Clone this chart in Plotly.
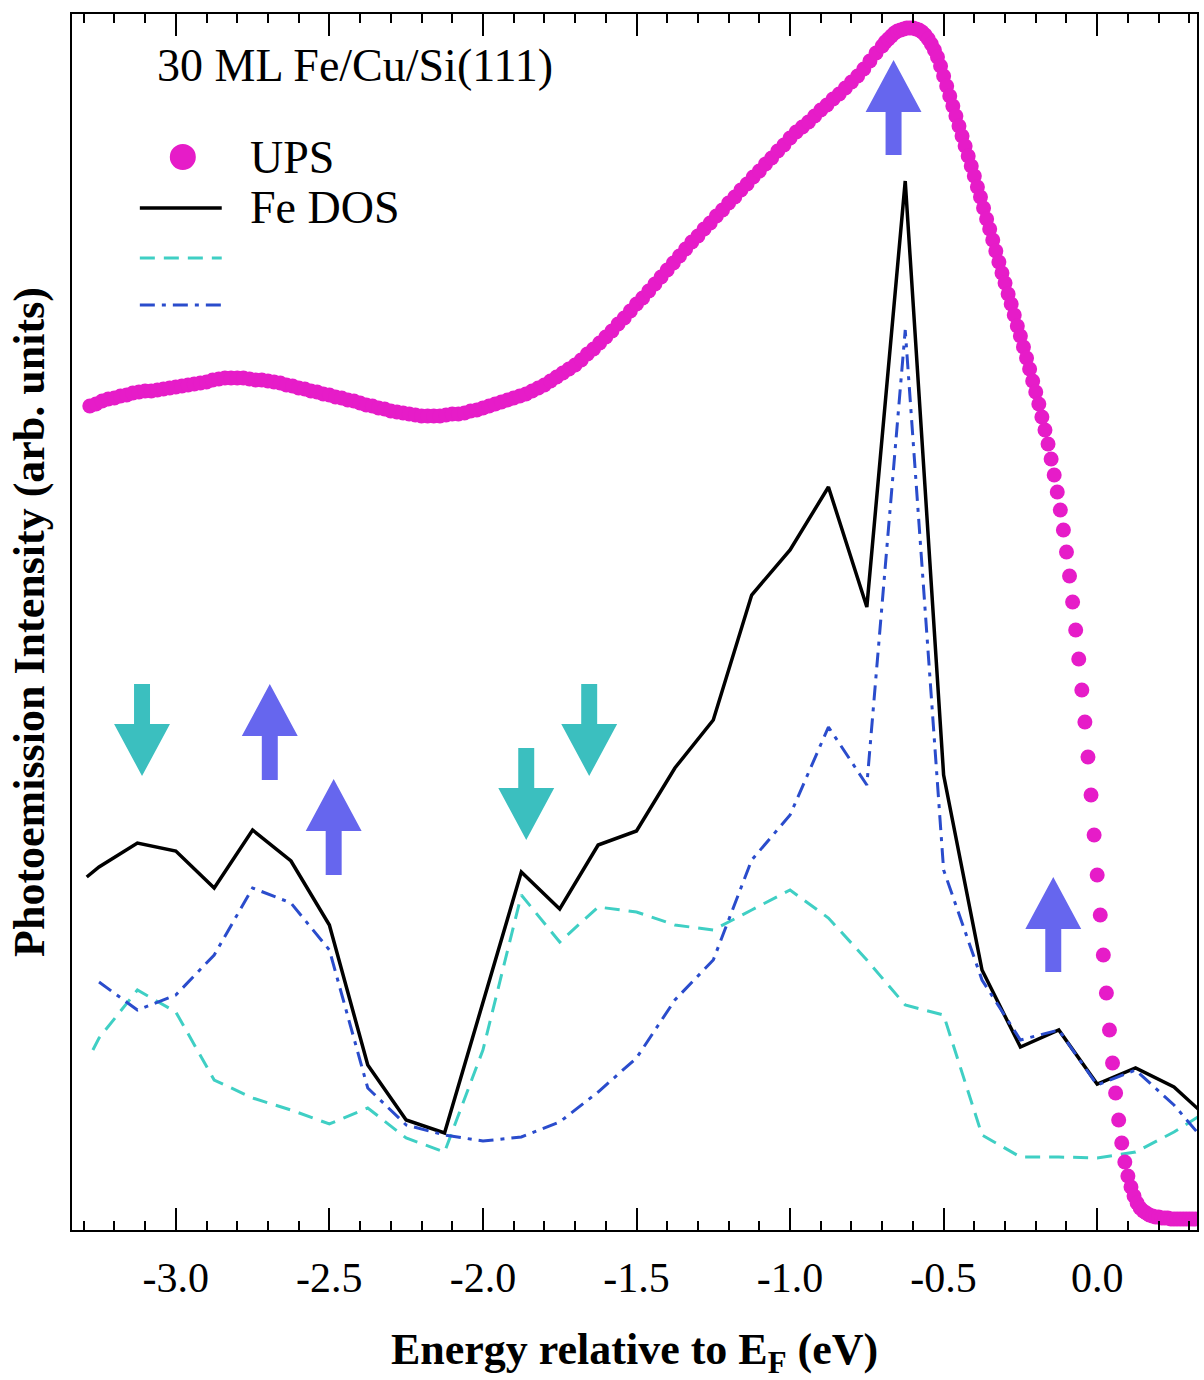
import plotly.graph_objects as go

# ---------------- data ----------------
# UPS spectrum: coarse part (0.02 eV steps) and fine part (0.01 eV steps)
ups_energy_a = [
    -3.28, -3.26, -3.24, -3.22, -3.20, -3.18, -3.16, -3.14, -3.12, -3.10,
    -3.08, -3.06, -3.04, -3.02, -3.00, -2.98, -2.96, -2.94, -2.92, -2.90,
    -2.88, -2.86, -2.84, -2.82, -2.80, -2.78, -2.76, -2.74, -2.72, -2.70,
    -2.68, -2.66, -2.64, -2.62, -2.60, -2.58, -2.56, -2.54, -2.52, -2.50,
    -2.48, -2.46, -2.44, -2.42, -2.40, -2.38, -2.36, -2.34, -2.32, -2.30,
    -2.28, -2.26, -2.24, -2.22, -2.20, -2.18, -2.16, -2.14, -2.12, -2.10,
    -2.08, -2.06, -2.04, -2.02, -2.00, -1.98, -1.96, -1.94, -1.92, -1.90,
    -1.88, -1.86, -1.84, -1.82, -1.80, -1.78, -1.76, -1.74, -1.72, -1.70,
    -1.68, -1.66, -1.64, -1.62, -1.60, -1.58, -1.56, -1.54, -1.52, -1.50,
    -1.48, -1.46, -1.44, -1.42, -1.40, -1.38, -1.36, -1.34, -1.32, -1.30,
    -1.28, -1.26, -1.24, -1.22, -1.20, -1.18, -1.16, -1.14, -1.12, -1.10,
    -1.08, -1.06, -1.04, -1.02, -1.00, -0.98, -0.96, -0.94, -0.92, -0.90,
    -0.88, -0.86, -0.84, -0.82, -0.80, -0.78, -0.76, -0.74, -0.72,
]
ups_counts_a = [
    82.4, 82.6, 82.9, 83.1, 83.2, 83.4, 83.5, 83.7, 83.8, 83.9,
    83.9, 84.0, 84.1, 84.2, 84.3, 84.4, 84.5, 84.6, 84.7, 84.8,
    85.0, 85.1, 85.2, 85.2, 85.2, 85.2, 85.1, 85.0, 85.0, 84.9,
    84.8, 84.7, 84.5, 84.4, 84.2, 84.1, 83.9, 83.8, 83.6, 83.5,
    83.3, 83.2, 83.0, 82.9, 82.7, 82.5, 82.4, 82.2, 82.1, 81.9,
    81.8, 81.7, 81.6, 81.5, 81.4, 81.4, 81.4, 81.4, 81.5, 81.6,
    81.6, 81.7, 81.9, 82.0, 82.2, 82.4, 82.6, 82.8, 83.0, 83.2,
    83.4, 83.6, 83.9, 84.2, 84.5, 84.9, 85.3, 85.7, 86.1, 86.5,
    87.0, 87.6, 88.1, 88.7, 89.3, 89.9, 90.6, 91.2, 91.9, 92.6,
    93.2, 93.9, 94.6, 95.3, 96.0, 96.7, 97.4, 98.1, 98.8, 99.4,
    100.1, 100.7, 101.4, 102.0, 102.7, 103.3, 104.0, 104.6, 105.3, 105.9,
    106.6, 107.2, 107.9, 108.5, 109.2, 109.8, 110.3, 110.8, 111.4, 112.0,
    112.5, 113.1, 113.6, 114.2, 114.8, 115.4, 116.1, 116.9, 117.7,
]
ups_energy_b = [
    -0.70, -0.69, -0.68, -0.67, -0.66, -0.65, -0.64, -0.63, -0.62, -0.61,
    -0.60, -0.59, -0.58, -0.57, -0.56, -0.55, -0.54, -0.53, -0.52, -0.51,
    -0.50, -0.49, -0.48, -0.47, -0.46, -0.45, -0.44, -0.43, -0.42, -0.41,
    -0.40, -0.39, -0.38, -0.37, -0.36, -0.35, -0.34, -0.33, -0.32, -0.31,
    -0.30, -0.29, -0.28, -0.27, -0.26, -0.25, -0.24, -0.23, -0.22, -0.21,
    -0.20, -0.19, -0.18, -0.17, -0.16, -0.15, -0.14, -0.13, -0.12, -0.11,
    -0.10, -0.09, -0.08, -0.07, -0.06, -0.05, -0.04, -0.03, -0.02, -0.01,
    0.00, 0.01, 0.02, 0.03, 0.04, 0.05, 0.06, 0.07, 0.08, 0.09,
    0.10, 0.11, 0.12, 0.13, 0.14, 0.15, 0.16, 0.17, 0.18, 0.19,
    0.20, 0.21, 0.22, 0.23, 0.24, 0.25, 0.26, 0.27, 0.28, 0.29,
    0.30, 0.31, 0.32,
]
ups_counts_b = [
    118.4, 118.8, 119.1, 119.4, 119.7, 119.9, 120.0, 120.1, 120.2, 120.2,
    120.2, 120.1, 120.0, 119.8, 119.5, 119.1, 118.6, 118.0, 117.3, 116.4,
    115.4, 114.4, 113.4, 112.4, 111.4, 110.4, 109.4, 108.4, 107.4, 106.4,
    105.4, 104.3, 103.3, 102.2, 101.1, 100.1, 99.0, 97.9, 96.8, 95.7,
    94.7, 93.6, 92.6, 91.5, 90.4, 89.4, 88.3, 87.2, 86.1, 84.9,
    83.8, 82.6, 81.3, 80.0, 78.6, 77.1, 75.5, 73.8, 72.0, 70.0,
    67.8, 65.4, 62.8, 60.0, 57.1, 54.0, 50.8, 47.3, 43.5, 39.5,
    35.5, 31.5, 27.5, 23.7, 20.0, 16.7, 13.7, 11.0, 8.7, 6.8,
    5.4, 4.3, 3.4, 2.7, 2.2, 1.9, 1.7, 1.5, 1.4, 1.3,
    1.3, 1.2, 1.2, 1.2, 1.1, 1.1, 1.1, 1.1, 1.1, 1.1,
    1.1, 1.1, 1.1,
]

# Calculated densities of states on a 0.125 eV grid
dos_energy = [
    -3.25, -3.125, -3.0, -2.875, -2.75, -2.625, -2.5, -2.375, -2.25, -2.125,
    -2.0, -1.875, -1.75, -1.625, -1.5, -1.375, -1.25, -1.125, -1.0, -0.875,
    -0.75, -0.625, -0.5, -0.375, -0.25, -0.125, 0.0, 0.125, 0.25, 0.375,
]
fe_dos_start = [-3.29, 35.3]
fe_dos = [
    36.3, 38.7, 37.9, 34.2, 40.0, 36.9, 30.5, 16.5, 11.0, 9.7,
    22.8, 35.8, 32.1, 38.5, 39.9, 46.2, 51.0, 63.5, 68.0, 74.3,
    62.3, 104.9, 45.5, 26.0, 18.3, 20.0, 14.6, 16.2, 14.3, 10.8,
]
spin_down_start = [-3.27, 18.0]
spin_down_dos = [
    19.2, 24.0, 21.8, 15.0, 13.2, 12.0, 10.6, 12.2, 9.2, 7.8,
    18.0, 33.5, 28.8, 32.3, 31.8, 30.5, 30.0, 32.0, 34.0, 31.2,
    27.0, 22.5, 21.5, 9.5, 7.3, 7.3, 7.2, 7.8, 9.8, 12.2,
]
spin_up_dos = [
    24.8, 22.0, 23.5, 27.5, 34.2, 32.7, 28.0, 14.2, 10.5, 9.5,
    8.9, 9.3, 10.8, 13.8, 17.2, 23.0, 27.0, 37.0, 41.5, 50.3,
    44.5, 90.0, 36.0, 25.0, 19.0, 20.0, 14.5, 16.0, 12.5, 8.0,
]

# Spin arrows: energy position, tail and tip intensity
down_arrow_energy = [-3.110, -1.859, -1.654]
down_arrow_tail = [54.6, 48.2, 54.6]
down_arrow_tip = [45.4, 39.0, 45.4]
up_arrow_energy = [-2.694, -2.486, -0.663, -0.143]
up_arrow_tail = [45.0, 35.5, 107.5, 25.8]
up_arrow_tip = [54.6, 45.1, 117.0, 35.3]

tick_values = [-3.0, -2.5, -2.0, -1.5, -1.0, -0.5, 0.0]
tick_labels = ["-3.0", "-2.5", "-2.0", "-1.5", "-1.0", "-0.5", "0.0"]

assert len(ups_energy_a) == len(ups_counts_a)
assert len(ups_energy_b) == len(ups_counts_b)

# ---------------- styling ----------------
MAGENTA = "#e61cc8"
CYAN_LINE = "#3fcfc4"
BLUE_LINE = "#2a4ccc"
CYAN_ARROW = "#3bbfbf"
BLUE_ARROW = "#6666ee"
SERIF = "Liberation Serif"

fig = go.Figure()

fig.add_trace(go.Scatter(
    x=[fe_dos_start[0]] + dos_energy, y=[fe_dos_start[1]] + fe_dos,
    mode="lines", line=dict(color="black", width=3.5), name="Fe DOS"))
fig.add_trace(go.Scatter(
    x=[spin_down_start[0]] + dos_energy, y=[spin_down_start[1]] + spin_down_dos,
    mode="lines", line=dict(color=CYAN_LINE, width=3, dash="15px,9px"),
    name="spin-down DOS"))
fig.add_trace(go.Scatter(
    x=dos_energy, y=spin_up_dos,
    mode="lines", line=dict(color=BLUE_LINE, width=3, dash="15px,7px,4px,7px"),
    name="spin-up DOS"))
fig.add_trace(go.Scatter(
    x=ups_energy_a + ups_energy_b, y=ups_counts_a + ups_counts_b,
    mode="markers", marker=dict(color=MAGENTA, size=15, line=dict(width=0)),
    name="UPS"))

# block arrows (shapes in data coordinates)
SHAFT_HW = 0.026   # eV
HEAD_HW = 0.091    # eV
HEAD_LEN = 5.2     # arb. units


def arrow_path(x, y_tail, y_tip):
    d = 1 if y_tip > y_tail else -1
    yb = y_tip - d * HEAD_LEN
    return (f"M {x - SHAFT_HW},{y_tail} L {x + SHAFT_HW},{y_tail} "
            f"L {x + SHAFT_HW},{yb} L {x + HEAD_HW},{yb} L {x},{y_tip} "
            f"L {x - HEAD_HW},{yb} L {x - SHAFT_HW},{yb} Z")


shapes = []
for x, yt, yp in zip(down_arrow_energy, down_arrow_tail, down_arrow_tip):
    shapes.append(dict(type="path", xref="x", yref="y", path=arrow_path(x, yt, yp),
                       fillcolor=CYAN_ARROW, line=dict(width=0)))
for x, yt, yp in zip(up_arrow_energy, up_arrow_tail, up_arrow_tip):
    shapes.append(dict(type="path", xref="x", yref="y", path=arrow_path(x, yt, yp),
                       fillcolor=BLUE_ARROW, line=dict(width=0)))

# hand-drawn legend (paper coordinates)
LX0, LX1 = 0.0603, 0.1331
shapes.append(dict(type="circle", xref="paper", yref="paper", xsizemode="pixel",
                   ysizemode="pixel", xanchor=0.0985, yanchor=0.8824,
                   x0=-13, x1=13, y0=-13, y1=13, fillcolor=MAGENTA, line=dict(width=0)))
shapes.append(dict(type="line", xref="paper", yref="paper", x0=LX0, x1=LX1,
                   y0=0.8405, y1=0.8405, line=dict(color="black", width=3.5)))
shapes.append(dict(type="line", xref="paper", yref="paper", x0=LX0, x1=LX1,
                   y0=0.7993, y1=0.7993, line=dict(color=CYAN_LINE, width=3, dash="15px,9px")))
shapes.append(dict(type="line", xref="paper", yref="paper", x0=LX0, x1=LX1,
                   y0=0.7607, y1=0.7607,
                   line=dict(color=BLUE_LINE, width=3, dash="15px,7px,4px,7px")))

annotations = [
    dict(text="30 ML Fe/Cu/Si(111)", xref="paper", yref="paper", x=0.0736, y=0.958,
         xanchor="left", yanchor="middle", showarrow=False,
         font=dict(family=SERIF, size=46, color="black")),
    dict(text="UPS", xref="paper", yref="paper", x=0.156, y=0.8824,
         xanchor="left", yanchor="middle", showarrow=False,
         font=dict(family=SERIF, size=46, color="black")),
    dict(text="Fe DOS", xref="paper", yref="paper", x=0.156, y=0.8405,
         xanchor="left", yanchor="middle", showarrow=False,
         font=dict(family=SERIF, size=46, color="black")),
]

fig.update_layout(
    width=1204, height=1380,
    margin=dict(l=72, r=5, t=14, b=150),
    paper_bgcolor="white", plot_bgcolor="white",
    showlegend=False,
    font=dict(family=SERIF, color="black"),
    shapes=shapes, annotations=annotations,
)

fig.update_xaxes(
    range=[-3.338, 0.325],
    tickmode="array", tickvals=tick_values, ticktext=tick_labels,
    ticks="inside", ticklen=22, tickwidth=2, tickcolor="black",
    minor=dict(tickmode="linear", tick0=0, dtick=0.1, ticks="inside",
               ticklen=9, tickwidth=2, tickcolor="black", showgrid=False),
    showline=True, linewidth=2, linecolor="black", mirror="allticks",
    showgrid=False, zeroline=False,
    tickfont=dict(family=SERIF, size=42, color="black"),
    ticklabelstandoff=10,
    title=dict(text="<b>Energy relative to E<sub>F</sub> (eV)</b>",
               font=dict(family=SERIF, size=44, color="black"), standoff=40),
)
fig.update_yaxes(
    range=[0, 121.6],
    showticklabels=False, ticks="",
    showline=True, linewidth=2, linecolor="black", mirror=True,
    showgrid=False, zeroline=False,
    title=dict(text="<b>Photoemission Intensity (arb. units)</b>",
               font=dict(family=SERIF, size=44, color="black"), standoff=12),
)

fig.write_html("out.html")
